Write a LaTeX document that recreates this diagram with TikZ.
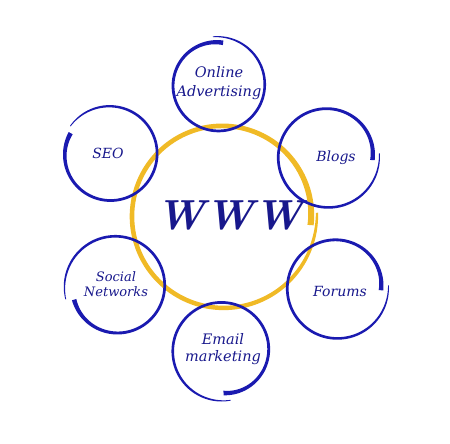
\documentclass[tikz,border=0pt]{standalone}
\usepackage{fontspec}
\newfontfamily\labelfont{DejaVu Serif}
\definecolor{ringblue}{RGB}{26,26,176}
\definecolor{textblue}{RGB}{24,24,140}
\definecolor{ringgold}{RGB}{240,186,38}
\def\wm{2.7}
% brush ring: [colour] #2 node, #3 start angle, #4 sweep, #5 r mid, #6 r start, #7 r end, #8 w start, #9 w end
\newcommand{\brushring}[9][ringblue]{%
  \fill[#1, shift={(#2.center)}]
    plot[domain=0:1, samples=180, smooth] ({#3+(#4)*\x}:{#5+(#6-#5)*(1-\x)^4+(#7-#5)*\x^4+(\wm+(#8-\wm)*(1-\x)^9+(#9-\wm)*\x^9)/2})
    -- plot[domain=1:0, samples=180, smooth] ({#3+(#4)*\x}:{#5+(#6-#5)*(1-\x)^4+(#7-#5)*\x^4-(\wm+(#8-\wm)*(1-\x)^9+(#9-\wm)*\x^9)/2})
    -- cycle;}
\tikzset{
  hub/.style={circle, minimum size=182pt, inner sep=0pt},
  sat/.style={circle, minimum size=96pt, inner sep=0pt},
  lbl/.style={align=center, text=textblue, inner sep=0pt,
    font=\labelfont\itshape\fontsize{14}{17}\selectfont},
}
\begin{document}
\begin{tikzpicture}[x=1pt,y=1pt]
\useasboundingbox (0,0) rectangle (450,444);
% hub
\node[hub] (www) at (223,228) {};
\node[text=textblue, inner sep=0pt, font=\fontsize{42}{42}\selectfont\bfseries\itshape] (wwwtext) at (230,229) {WWW};
{\def\wm{4.6}\brushring[ringgold]{www}{2}{-368}{91}{94}{88}{2.2}{6.2}}
% satellites
\node[sat] (online) at (218,359) {};
\node[sat] (seo) at (110,290) {};
\node[sat] (blogs) at (328,287) {};
\node[sat] (social) at (116,158) {};
\node[sat] (forums) at (337,156) {};
\node[sat] (email) at (222,93) {};
% labels
\node[lbl, font=\labelfont\itshape\fontsize{14.5}{19}\selectfont] (tonline) at (219,361) {Online\\Advertising};
\node[lbl] (tseo) at (108,291) {SEO};
\node[lbl] (tblogs) at (336,286) {Blogs};
\node[lbl, font=\labelfont\itshape\fontsize{13}{14.5}\selectfont] (tsocial) at (116,160) {Social\\Networks};
\node[lbl] (tforums) at (340,152) {Forums};
\node[lbl, font=\labelfont\itshape\fontsize{14.5}{17.5}\selectfont] (temail) at (223,95) {Email\\marketing};
% rings
\brushring{online}{96}{-373}{46}{48.5}{42.5}{0.8}{4.6}
\brushring{seo}{152}{353}{47}{44.5}{48.5}{4.6}{0.8}
\brushring{blogs}{4}{-368}{50}{51.5}{44.5}{0.8}{4.6}
\brushring{social}{198}{357}{49}{44}{52}{4.6}{0.8}
\brushring{forums}{3}{-366}{50}{51.5}{44}{0.8}{4.6}
\brushring{email}{-88}{368}{49}{42}{50}{4.6}{0.8}
\end{tikzpicture}
\end{document}
